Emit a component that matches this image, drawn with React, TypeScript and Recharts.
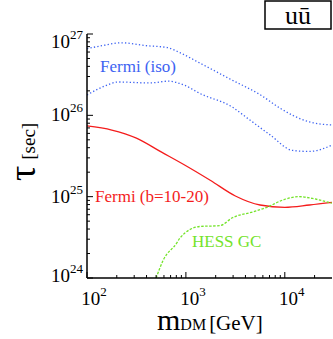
import React from 'react';
import { LineChart, Line, XAxis, YAxis } from 'recharts';

// Fermi (iso), upper bound (dotted)
const isoUpperMass = [100, 135, 224, 390, 650, 870, 1380, 2950, 5600, 8900, 12000, 17800, 30000];
const isoUpperTau = [6.6e26, 7.1e26, 7.8e26, 7.2e26, 6.8e26, 5.9e26, 4.4e26, 2.7e26, 1.8e26, 1.23e26, 1.0e26, 8.3e25, 7.6e25];

// Fermi (iso), lower bound (dotted)
const isoLowerMass = [100, 152, 206, 433, 660, 970, 1380, 2950, 4150, 7100, 12000, 17800, 30000];
const isoLowerTau = [1.78e26, 2.3e26, 2.57e26, 2.5e26, 2.63e26, 2.34e26, 1.86e26, 1.26e26, 9.3e25, 5.75e25, 3.7e25, 3.6e25, 4.3e25];

// Fermi (b=10-20)
const fermiBMass = [100, 178, 316, 562, 1000, 1778, 3162, 5623, 10000, 17783, 30000];
const fermiBTau = [7.4e25, 6.6e25, 5.25e25, 3.55e25, 2.4e25, 1.58e25, 1.02e25, 7.9e24, 7.4e24, 7.9e24, 8.5e24];

// HESS GC
const hessMass = [500, 590, 810, 870, 1380, 2200, 2950, 4750, 6600, 9550, 14000, 19000, 30000];
const hessTau = [1e24, 1.66e24, 2.7e24, 3.1e24, 4.3e24, 4.4e24, 5.5e24, 6.5e24, 7.4e24, 9.1e24, 1.0e25, 9.5e24, 8.3e24];

const xMajor = [100, 1000, 10000];
const xMinor = [200, 300, 400, 500, 600, 700, 800, 900, 2000, 3000, 4000, 5000, 6000, 7000, 8000, 9000, 20000];
const yMajor = [1e24, 1e25, 1e26, 1e27];
const yMinor = [2, 3, 4, 5, 6, 7, 8, 9].flatMap((k) => [k * 1e24, k * 1e25, k * 1e26]);

const toRows = (m: number[], t: number[]) => m.map((v, i) => ({ m: v, t: t[i] }));

const SERIF = 'Liberation Serif, Times New Roman, DejaVu Serif, serif';
const BLUE = '#3d63f2';
const RED = '#f41c1c';
const GREEN = '#74e32a';

const isMajor = (v: number) => Math.abs(Math.log10(v) - Math.round(Math.log10(v))) < 1e-6;
const exp = (v: number) => Math.round(Math.log10(v));

const BottomTick = ({ x, y, payload }: any) => {
  const major = isMajor(payload.value);
  return (
    <g>
      <line x1={x} x2={x} y1={y} y2={y - (major ? 6 : 3)} stroke="#000" strokeWidth={1} />
      {major && (
        <text x={x + 7} y={y + 27} textAnchor="middle" style={{ fontFamily: SERIF }} fontSize={19} fill="#000">
          10<tspan dy={-9} fontSize={13}>{exp(payload.value)}</tspan>
        </text>
      )}
    </g>
  );
};

const TopTick = ({ x, y, payload }: any) => {
  const major = isMajor(payload.value);
  return <line x1={x} x2={x} y1={y} y2={y + (major ? 6 : 3)} stroke="#000" strokeWidth={1} />;
};

const LeftTick = ({ x, y, payload }: any) => {
  const major = isMajor(payload.value);
  const base = Math.min(Math.max(y + 6, 48), 282);
  return (
    <g>
      <line x1={x} x2={x + (major ? 6 : 3)} y1={y} y2={y} stroke="#000" strokeWidth={1} />
      {major && (
        <text x={x - 4} y={base} textAnchor="end" style={{ fontFamily: SERIF }} fontSize={19} fill="#000">
          10<tspan dy={-9} fontSize={13}>{exp(payload.value)}</tspan>
        </text>
      )}
    </g>
  );
};

const RightTick = ({ x, y, payload }: any) => {
  const major = isMajor(payload.value);
  return <line x1={x} x2={x - (major ? 6 : 3)} y1={y} y2={y} stroke="#000" strokeWidth={1} />;
};

export default function App() {
  const xTicks = [...xMajor, ...xMinor].sort((a, b) => a - b);
  const yTicks = [...yMajor, ...yMinor].sort((a, b) => a - b);
  const axisLine = { stroke: '#000', strokeWidth: 1.5 };

  return (
    <div style={{ position: 'absolute', left: 0, top: 0, width: 333, height: 339, background: '#fff' }}>
      <LineChart width={333} height={339} margin={{ top: 34, right: 1, bottom: 0, left: 0 }}>
        <XAxis
          xAxisId="b"
          dataKey="m"
          type="number"
          scale="log"
          domain={[100, 30000]}
          allowDataOverflow
          ticks={xTicks}
          interval={0}
          tickSize={0}
          tickMargin={0}
          height={61}
          axisLine={axisLine}
          tickLine={false}
          tick={<BottomTick />}
        />
        <XAxis
          xAxisId="t"
          orientation="top"
          dataKey="m"
          type="number"
          scale="log"
          domain={[100, 30000]}
          allowDataOverflow
          ticks={xTicks}
          interval={0}
          tickSize={0}
          tickMargin={0}
          height={0}
          axisLine={axisLine}
          tickLine={false}
          tick={<TopTick />}
        />
        <YAxis
          yAxisId="l"
          dataKey="t"
          type="number"
          scale="log"
          domain={[1e24, 1e27]}
          allowDataOverflow
          ticks={yTicks}
          interval={0}
          tickSize={0}
          tickMargin={0}
          width={87}
          axisLine={axisLine}
          tickLine={false}
          tick={<LeftTick />}
        />
        <YAxis
          yAxisId="r"
          orientation="right"
          dataKey="t"
          type="number"
          scale="log"
          domain={[1e24, 1e27]}
          allowDataOverflow
          ticks={yTicks}
          interval={0}
          tickSize={0}
          tickMargin={0}
          width={0}
          axisLine={axisLine}
          tickLine={false}
          tick={<RightTick />}
        />
        <Line
          xAxisId="b"
          yAxisId="l"
          data={toRows(isoUpperMass, isoUpperTau)}
          dataKey="t"
          type="monotone"
          stroke={BLUE}
          strokeWidth={1.3}
          strokeDasharray="1.3 2.2"
          dot={false}
          isAnimationActive={false}
        />
        <Line
          xAxisId="b"
          yAxisId="l"
          data={toRows(isoLowerMass, isoLowerTau)}
          dataKey="t"
          type="monotone"
          stroke={BLUE}
          strokeWidth={1.3}
          strokeDasharray="1.3 2.2"
          dot={false}
          isAnimationActive={false}
        />
        <Line
          xAxisId="b"
          yAxisId="l"
          data={toRows(fermiBMass, fermiBTau)}
          dataKey="t"
          type="monotone"
          stroke={RED}
          strokeWidth={1.3}
          dot={false}
          isAnimationActive={false}
        />
        <Line
          xAxisId="b"
          yAxisId="l"
          data={toRows(hessMass, hessTau)}
          dataKey="t"
          type="monotone"
          stroke={GREEN}
          strokeWidth={1.3}
          strokeDasharray="2.5 1.5"
          dot={false}
          isAnimationActive={false}
        />
      </LineChart>
      <svg width={333} height={339} style={{ position: 'absolute', left: 0, top: 0, pointerEvents: 'none', fontFamily: SERIF }}>
        <text x={100} y={72} fontSize={17} fill={BLUE}>Fermi (iso)</text>
        <text x={95} y={202} fontSize={17} fill={RED}>Fermi (b=10-20)</text>
        <text x={192} y={247} fontSize={17} fill={GREEN}>HESS GC</text>
        <rect x={265} y={1} width={66} height={28} fill="#fff" stroke="#000" strokeWidth={1.5} />
        <text x={298} y={24} textAnchor="middle" fontSize={26} fill="#000">uū</text>
        <text transform="translate(35,181) rotate(-90)" fill="#000">
          <tspan fontSize={38}>τ</tspan>
          <tspan fontSize={19} dx={6}>[sec]</tspan>
        </text>
        <text x={157} y={330} fill="#000">
          <tspan fontSize={30}>m</tspan>
          <tspan fontSize={16}>DM</tspan>
          <tspan fontSize={21} dx={3}>[GeV]</tspan>
        </text>
      </svg>
    </div>
  );
}
